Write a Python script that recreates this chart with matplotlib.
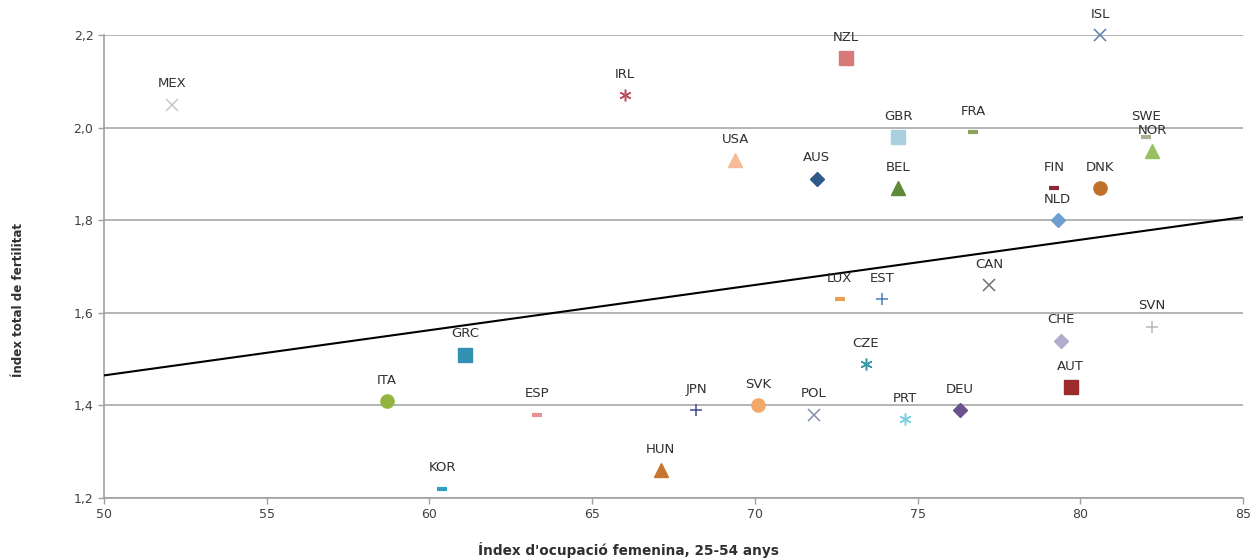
import matplotlib.pyplot as plt
from matplotlib.ticker import FuncFormatter

plt.rcParams['font.family'] = ['DejaVu Sans']

# Índex d'ocupació femenina (25-54) i índex total de fertilitat per país
countries = ['MEX', 'IRL', 'NZL', 'ISL', 'USA', 'AUS', 'GBR', 'BEL', 'FRA',
             'FIN', 'DNK', 'NLD', 'SWE', 'NOR', 'CAN', 'LUX', 'EST', 'SVN',
             'CHE', 'AUT', 'DEU', 'CZE', 'PRT', 'POL', 'SVK', 'JPN', 'HUN',
             'ESP', 'ITA', 'GRC', 'KOR']
occupacio = [52.1, 66.0, 72.8, 80.6, 69.4, 71.9, 74.4, 74.4, 76.7,
             79.2, 80.6, 79.3, 82.0, 82.2, 77.2, 72.6, 73.9, 82.2,
             79.4, 79.7, 76.3, 73.4, 74.6, 71.8, 70.1, 68.2, 67.1,
             63.3, 58.7, 61.1, 60.4]
fertilitat = [2.05, 2.07, 2.15, 2.20, 1.93, 1.89, 1.98, 1.87, 1.99,
              1.87, 1.87, 1.80, 1.98, 1.95, 1.66, 1.63, 1.63, 1.57,
              1.54, 1.44, 1.39, 1.49, 1.37, 1.38, 1.40, 1.39, 1.26,
              1.38, 1.41, 1.51, 1.22]
markers = ['x', 'ast', 's', 'x', '^', 'D', 's', '^', '_',
           '_', 'o', 'D', '_', '^', 'x', '_', '+', '+',
           'D', 's', 'D', 'ast', 'ast', 'x', 'o', '+', '^',
           '_', 'o', 's', '_']
colors = ['#c8c8c8', '#c05060', '#d87878', '#5a7fa8', '#f4bc98', '#2e5a8a',
          '#a8d0de', '#5f8a38', '#8ea05e', '#8a2838', '#c0702c', '#6e9ed0',
          '#a8b090', '#98c060', '#707070', '#e8a050', '#4a7cc0', '#b8b8b8',
          '#b4accc', '#9c2c2c', '#6a5290', '#3a98a8', '#7cd0e0', '#8090a8',
          '#f4a868', '#404a90', '#c87530', '#e89098', '#94b440', '#3290b0',
          '#30a0c8']

# línia de tendència
trend_x = [50, 85]
trend_y = [1.465, 1.807]

fig = plt.figure(figsize=(12.52, 5.59), dpi=100)
ax = fig.add_axes([0.083, 0.109, 0.910, 0.828])

ax.set_xlim(50, 85)
ax.set_ylim(1.2, 2.2)
ax.set_xticks(range(50, 86, 5))
ax.set_yticks([1.2, 1.4, 1.6, 1.8, 2.0, 2.2])
ax.yaxis.set_major_formatter(FuncFormatter(lambda v, p: f'{v:.1f}'.replace('.', ',')))
ax.grid(axis='y', color='#a8a8a8', linewidth=1.2)
ax.set_axisbelow(True)
for side in ['top', 'right']:
    ax.spines[side].set_visible(False)
for side in ['left', 'bottom']:
    ax.spines[side].set_color('#a0a0a0')
    ax.spines[side].set_linewidth(1.2)
ax.tick_params(colors='#a0a0a0', labelcolor='#404040', labelsize=9, length=4, width=1)

ax.plot(trend_x, trend_y, color='black', linewidth=1.5, zorder=3)

for name, x, y, m, c in zip(countries, occupacio, fertilitat, markers, colors):
    kw = dict(color=c, ls='none', zorder=4, clip_on=False)
    if m == 'ast':
        ax.plot(x, y, marker=(6, 2, 0), markersize=8.5, mew=1.1, **kw)
    elif m in ('x', '+'):
        ax.plot(x, y, marker=m, markersize=8, mew=1.1, **kw)
    elif m == '_':
        ax.plot(x, y, marker='_', markersize=7, mew=3, **kw)
    elif m == 'D':
        ax.plot(x, y, marker='D', markersize=7, **kw)
    else:
        ax.plot(x, y, marker=m, markersize=9.5, **kw)
    ax.annotate(name, (x, y), xytext=(0, 15), textcoords='offset points',
                ha='center', va='center', fontsize=9.5, color='#303030', zorder=5)

fig.text(0.502, 0.016, "Índex d'ocupació femenina, 25-54 anys", fontsize=9.8,
         fontweight='bold', color='#303030', ha='center', va='center')
fig.text(0.015, 0.463, 'Índex total de fertilitat', fontsize=8.6, fontweight='bold',
         color='#303030', ha='center', va='center', rotation=90)

fig.savefig('out.png', dpi=100)
